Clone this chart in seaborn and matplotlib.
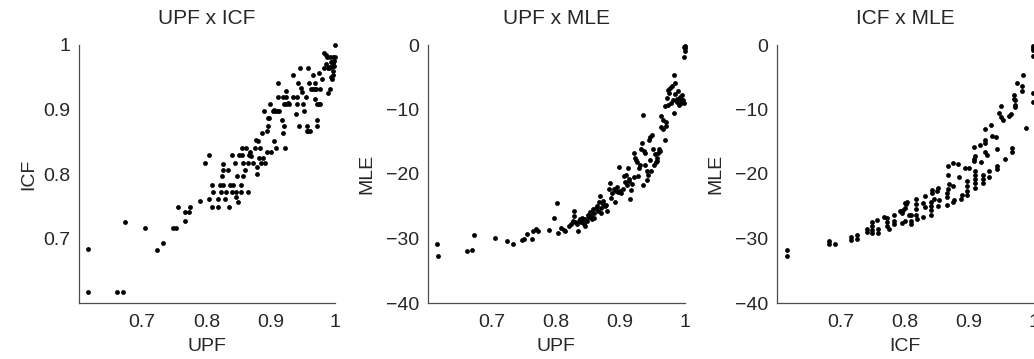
import numpy as np
import pandas as pd
import seaborn as sns
import matplotlib.pyplot as plt

# panel 1: UPF x ICF
upf_a = [0.615, 0.616, 0.661, 0.670, 0.673, 0.705, 0.723, 0.733, 0.748, 0.752, 0.756, 0.767, 0.766, 0.773,
         0.775, 0.790, 0.797, 0.803, 0.803, 0.808, 0.817, 0.809, 0.810, 0.817, 0.821, 0.822,
         0.825, 0.825, 0.824, 0.833, 0.826, 0.830, 0.829, 0.835, 0.836, 0.839, 0.840, 0.841, 0.844, 0.845,
         0.848, 0.846, 0.849, 0.851, 0.854, 0.853, 0.855, 0.855, 0.857, 0.857, 0.860, 0.861, 0.864, 0.865,
         0.866, 0.869, 0.868, 0.872, 0.875, 0.877, 0.878, 0.879, 0.880, 0.882, 0.883, 0.884, 0.886, 0.888,
         0.891, 0.894, 0.889, 0.894, 0.895, 0.896, 0.897, 0.899, 0.903, 0.904, 0.905, 0.907, 0.909, 0.908,
         0.913, 0.900, 0.917, 0.919, 0.921, 0.922, 0.911, 0.911, 0.919, 0.923, 0.924, 0.921, 0.924, 0.926,
         0.928, 0.935, 0.935, 0.939, 0.941, 0.941, 0.942, 0.943, 0.945, 0.946, 0.949, 0.950, 0.951, 0.954,
         0.956, 0.956, 0.958, 0.961, 0.957, 0.962, 0.965, 0.959, 0.968, 0.968, 0.966, 0.970, 0.969, 0.971,
         0.971, 0.971, 0.974, 0.976, 0.977, 0.975, 0.982, 0.982, 0.985, 0.987, 0.988, 0.990, 0.991, 0.993,
         0.994, 0.995, 0.996, 0.997, 0.997, 0.999, 0.996, 1.000, 0.992, 0.990, 0.994, 0.998, 0.986, 0.988,
         0.998, 0.980]
icf_a = [0.684, 0.618, 0.618, 0.618, 0.726, 0.717, 0.683, 0.694, 0.717, 0.717, 0.750, 0.728, 0.741, 0.741,
         0.750, 0.759, 0.818, 0.830, 0.762, 0.750, 0.750, 0.784, 0.772, 0.762, 0.784, 0.772,
         0.816, 0.807, 0.797, 0.807, 0.784, 0.772, 0.762, 0.750, 0.784, 0.772, 0.830, 0.784, 0.818, 0.772,
         0.797, 0.765, 0.757, 0.830, 0.784, 0.772, 0.830, 0.840, 0.818, 0.797, 0.807, 0.840, 0.772, 0.818,
         0.830, 0.829, 0.834, 0.817, 0.840, 0.853, 0.800, 0.812, 0.851, 0.826, 0.840, 0.818, 0.864, 0.826,
         0.817, 0.835, 0.898, 0.867, 0.887, 0.874, 0.887, 0.909, 0.898, 0.851, 0.900, 0.898, 0.898, 0.840,
         0.898, 0.835, 0.884, 0.864, 0.874, 0.840, 0.942, 0.920, 0.920, 0.929, 0.920, 0.909, 0.909, 0.910,
         0.909, 0.920, 0.954, 0.893, 0.920, 0.909, 0.942, 0.874, 0.964, 0.933, 0.927, 0.909, 0.898, 0.920,
         0.867, 0.874, 0.867, 0.867, 0.964, 0.932, 0.932, 0.941, 0.932, 0.942, 0.954, 0.932, 0.916, 0.909,
         0.884, 0.874, 0.909, 0.909, 0.932, 0.957, 0.964, 0.988, 0.984, 0.982, 0.925, 0.964, 0.932, 0.951,
         0.966, 0.948, 0.954, 0.972, 0.982, 0.982, 0.960, 1.000, 0.982, 0.966, 0.974, 0.975, 0.970, 0.964,
         0.968, 0.948]

# panel 2: UPF x MLE
upf_b = [0.6155, 0.617, 0.662, 0.670, 0.673, 0.705, 0.724, 0.733, 0.748, 0.751, 0.756, 0.763, 0.765, 0.770,
         0.772, 0.789, 0.797, 0.802, 0.803, 0.808, 0.812, 0.815, 0.820, 0.823, 0.826, 0.828, 0.829, 0.830,
         0.833, 0.834, 0.836, 0.838, 0.839, 0.841, 0.842, 0.844, 0.846, 0.845, 0.848, 0.850, 0.852, 0.853,
         0.855, 0.857, 0.858, 0.859, 0.860, 0.862, 0.864, 0.866, 0.867, 0.868, 0.870, 0.871, 0.873, 0.874,
         0.876, 0.878, 0.879, 0.882, 0.884, 0.886, 0.888, 0.890, 0.892, 0.893, 0.895, 0.897, 0.899, 0.900,
         0.902, 0.904, 0.906, 0.908, 0.909, 0.911, 0.912, 0.913, 0.914, 0.916, 0.917, 0.919, 0.921, 0.922,
         0.923, 0.925, 0.926, 0.928, 0.930, 0.931, 0.933, 0.934, 0.935, 0.936, 0.937, 0.938, 0.939, 0.941,
         0.942, 0.944, 0.945, 0.946, 0.947, 0.948, 0.950, 0.951, 0.953, 0.954, 0.955, 0.957, 0.958, 0.959,
         0.961, 0.962, 0.963, 0.964, 0.966, 0.967, 0.969, 0.970, 0.971, 0.972, 0.973, 0.974, 0.975, 0.976,
         0.978, 0.979, 0.980, 0.982, 0.983, 0.984, 0.985, 0.986, 0.988, 0.989, 0.990, 0.992, 0.993, 0.994,
         0.995, 0.996, 0.998, 0.999, 0.999, 1.000, 1.000, 1.000, 0.999]
mle_b = [-30.9, -32.7, -31.9, -31.8, -29.4, -29.9, -30.4, -30.9, -30.3, -30.0, -29.3, -30.0, -28.8, -28.5,
         -28.9, -28.7, -26.8, -24.5, -29.1, -28.3, -28.7, -28.9, -28.1, -27.8, -27.3, -25.7, -26.5, -27.4,
         -27.7, -28.9, -27.3, -27.0, -27.5, -26.8, -27.2, -27.7, -28.1, -27.0, -27.3, -26.4, -26.6, -25.9,
         -26.5, -27.0, -25.5, -26.1, -26.8, -25.2, -24.9, -25.8, -24.4, -23.4, -26.0, -25.2, -24.6, -24.2,
         -25.0, -24.8, -25.7, -22.4, -21.4, -23.7, -22.9, -22.3, -24.3, -22.6, -22.0, -22.8, -18.9, -22.6,
         -23.0, -22.4, -20.3, -21.2, -20.2, -21.7, -19.1, -20.8, -21.1, -23.8, -22.5, -21.5, -20.4, -16.8,
         -17.5, -17.9, -18.2, -20.3, -19.0, -18.6, -16.2, -15.2, -21.7, -10.8, -16.4, -18.6, -16.7, -20.9,
         -19.6, -20.2, -14.8, -17.8, -14.2, -19.5, -13.9, -16.1, -18.6, -16.9, -18.1, -17.5, -18.0, -16.8,
         -16.1, -16.5, -12.7, -11.0, -13.1, -11.7, -14.8, -9.5, -11.9, -12.5, -8.2, -7.0, -9.3, -7.5,
         -6.6, -9.0, -6.3, -8.6, -10.6, -4.6, -5.9, -7.6, -8.3, -8.9, -7.2, -9.3, -8.0, -8.6,
         -9.0, -7.8, -8.5, -9.0, -1.8, -0.2, -0.5, -0.9, -0.3]

# panel 3: ICF x MLE
icf_c = [0.617, 0.617, 0.683, 0.683, 0.692, 0.716, 0.716, 0.726, 0.726, 0.741, 0.741,
         0.749, 0.749, 0.749, 0.749, 0.759, 0.759, 0.757, 0.767, 0.772, 0.772, 0.772, 0.775,
         0.783, 0.784, 0.784, 0.793, 0.796, 0.800, 0.800, 0.800, 0.809, 0.809, 0.809,
         0.804, 0.802, 0.798, 0.796, 0.806, 0.819, 0.829, 0.818, 0.818, 0.818, 0.818,
         0.829, 0.831, 0.841, 0.841, 0.841, 0.841, 0.832, 0.843, 0.843, 0.851, 0.850,
         0.853, 0.846, 0.865, 0.852, 0.865, 0.865, 0.867, 0.869, 0.867, 0.875, 0.876, 0.875,
         0.867, 0.875, 0.883, 0.884, 0.889, 0.888, 0.893, 0.900, 0.897, 0.897, 0.897, 0.897,
         0.909, 0.909, 0.909, 0.909, 0.909, 0.909, 0.908, 0.908, 0.908, 0.921, 0.921, 0.921,
         0.919, 0.917, 0.924, 0.925, 0.924, 0.928, 0.931, 0.931, 0.935, 0.942, 0.943, 0.944,
         0.943, 0.925, 0.934, 0.946, 0.950, 0.949, 0.952, 0.962, 0.965, 0.955, 0.967, 0.967,
         0.970, 0.970, 0.971, 0.971, 0.972, 0.974, 0.982, 0.982, 0.983, 0.989, 0.999, 0.999,
         0.999, 0.999, 0.999, 0.999]
mle_c = [-31.8, -32.7, -30.4, -30.9, -30.9, -29.7, -30.2, -29.5, -30.0, -28.6, -29.0,
         -27.5, -28.1, -28.7, -29.2, -28.6, -29.1, -27.1, -26.6, -26.8, -27.5, -28.1, -28.6,
         -26.3, -27.3, -27.8, -25.8, -27.6, -24.5, -25.3, -27.3, -27.3, -27.8, -26.3,
         -24.3, -24.7, -25.6, -26.0, -26.4, -26.9, -26.7, -23.8, -24.6, -25.4, -26.4,
         -24.5, -25.1, -24.3, -25.0, -25.6, -26.3, -23.4, -22.5, -23.0, -22.2, -22.7,
         -24.0, -23.8, -24.8, -24.9, -23.0, -23.5, -20.2, -21.6, -22.3, -21.9, -24.0, -24.4,
         -18.8, -18.3, -18.5, -20.4, -23.3, -23.8, -19.1, -19.0, -21.1, -21.8, -22.6, -23.2,
         -19.5, -20.1, -20.8, -21.4, -22.2, -17.2, -18.0, -15.8, -17.6, -20.2, -20.8, -21.4,
         -18.2, -15.5, -14.8, -15.2, -16.6, -17.1, -19.6, -20.4, -14.1, -14.3, -16.2, -18.8,
         -19.3, -13.1, -12.4, -10.6, -9.5, -11.1, -11.7, -11.0, -10.7, -17.7, -16.0, -16.6,
         -7.75, -8.4, -8.5, -9.3, -9.6, -5.9, -6.4, -7.1, -4.65, -12.8, -7.5, -8.8,
         -0.1, -0.5, -0.8, -1.7]

x_ticks = [0.7, 0.8, 0.9, 1]
x_tick_labels = ['0.7', '0.8', '0.9', '1']
mle_ticks = [-40, -30, -20, -10, 0]
mle_tick_labels = ['\u221240', '\u221230', '\u221220', '\u221210', '0']

panels = [
    (upf_a, icf_a, 'UPF', 'ICF', 'UPF x ICF', (0.601, 1.0), [0.7, 0.8, 0.9, 1], ['0.7', '0.8', '0.9', '1']),
    (upf_b, mle_b, 'UPF', 'MLE', 'UPF x MLE', (-40, 0), mle_ticks, mle_tick_labels),
    (icf_c, mle_c, 'ICF', 'MLE', 'ICF x MLE', (-40, 0), mle_ticks, mle_tick_labels),
]

sns.set_style('white')
plt.rcParams['font.family'] = ['Liberation Sans', 'DejaVu Sans']

fig = plt.figure(figsize=(10.34, 3.59), dpi=100)
lefts = [78.5, 427.7, 776.7]
for (xv, yv, xl, yl, title, ylim, yt, ytl), lpx in zip(panels, lefts):
    ax = fig.add_axes([lpx / 1034, 56 / 359, 256.8 / 1034, 258 / 359])
    df = pd.DataFrame({xl: xv, yl: yv})
    sns.scatterplot(data=df, x=xl, y=yl, ax=ax, color='black', s=12, linewidth=0, clip_on=False)
    ax.set_xlim(0.601, 1.0)
    ax.set_ylim(*ylim)
    ax.set_xticks(x_ticks)
    ax.set_xticklabels(x_tick_labels)
    ax.set_yticks(yt)
    ax.set_yticklabels(ytl)
    for s in ['top', 'right']:
        ax.spines[s].set_visible(False)
    for s in ['left', 'bottom']:
        ax.spines[s].set_color('0.3')
        ax.spines[s].set_linewidth(0.9)
    ax.tick_params(direction='in', length=3, width=0.8, color='0.3', labelsize=14)
    ax.tick_params(axis='x', pad=8)
    ax.tick_params(axis='y', pad=6)
    ax.set_xlabel(xl, fontsize=14, labelpad=5)
    ax.set_ylabel(yl, fontsize=14, labelpad=8 if yl == 'MLE' else 4)
    ax.set_title(title, fontsize=15, pad=15)

fig.savefig('out.png', dpi=100)
